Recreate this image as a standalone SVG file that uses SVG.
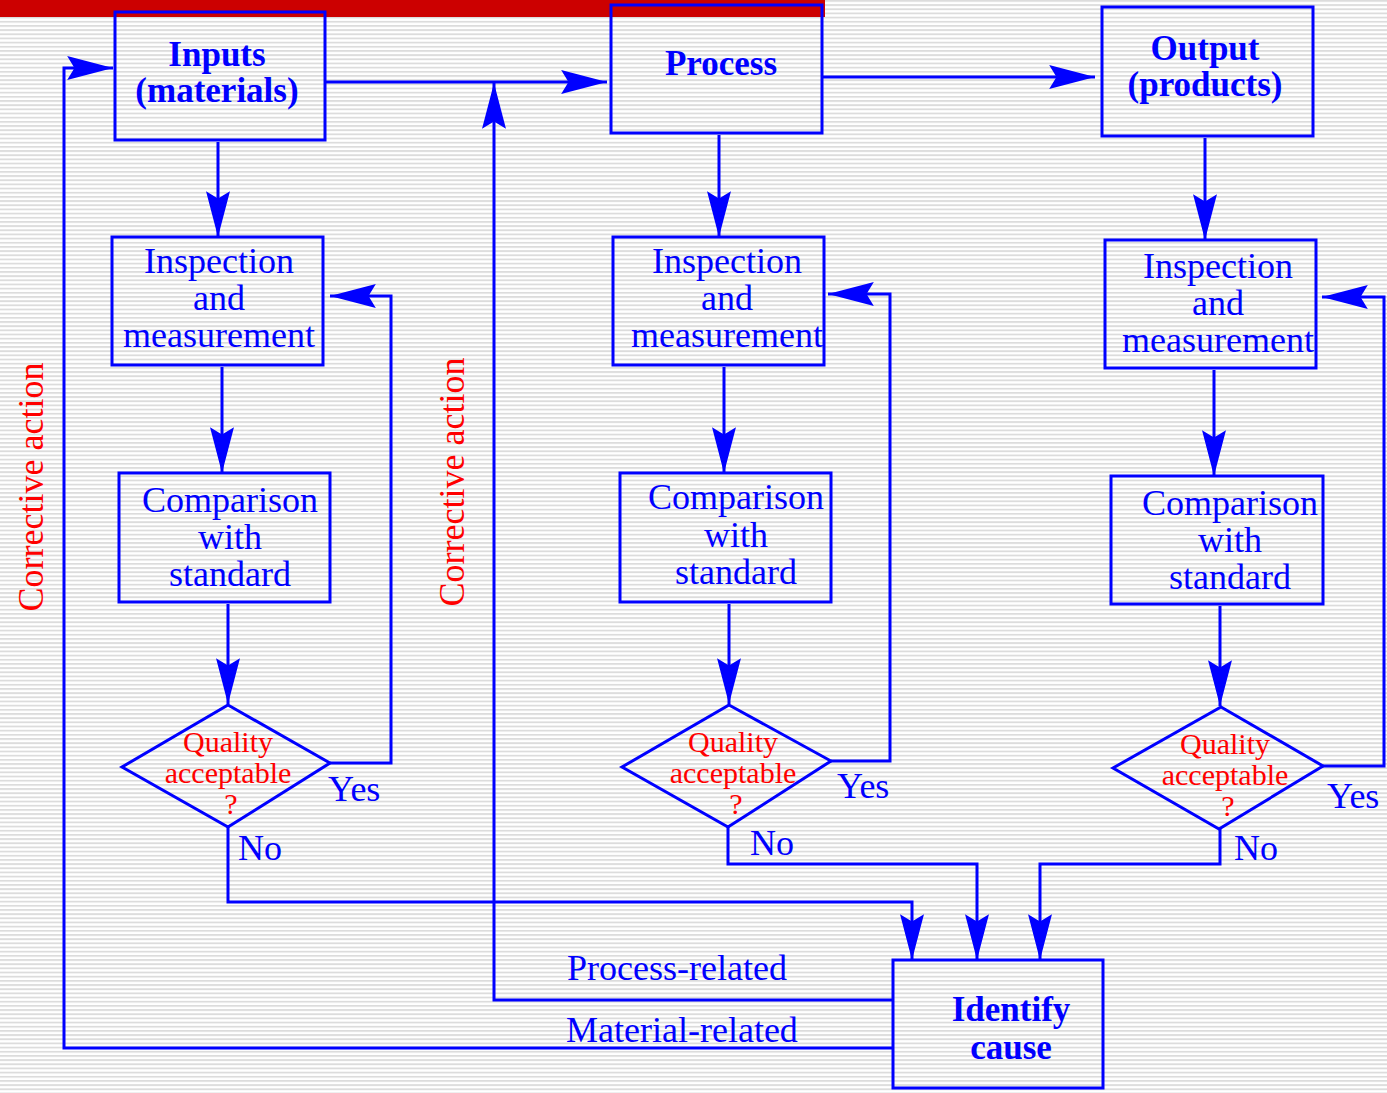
<svg xmlns="http://www.w3.org/2000/svg" width="1387" height="1093" viewBox="0 0 1387 1093">
<defs>
<pattern id="stripes" width="20" height="4.17" patternUnits="userSpaceOnUse">
<rect width="20" height="4.17" fill="#ffffff"/>
<rect y="0" width="20" height="1.8" fill="#dcdcdc"/>
</pattern>
<marker id="arr" markerUnits="userSpaceOnUse" markerWidth="50" markerHeight="30" refX="0" refY="0" viewBox="-46 -13 48 26" orient="auto" overflow="visible">
<path d="M0,0 L-44,-11.5 L-37,0 L-44,11.5 Z" fill="#0000ff"/>
</marker>
<style>
.box{fill:none;stroke:#0000ff;stroke-width:3}
.ln{fill:none;stroke:#0000ff;stroke-width:3}
.a{marker-end:url(#arr)}
.t{font-family:"Liberation Serif","Times New Roman",serif;font-size:36px;fill:#0000ff;text-anchor:middle}
.b{font-weight:bold;font-size:35px}
.q{font-family:"Liberation Serif","Times New Roman",serif;font-size:30px;fill:#ff0000;text-anchor:middle}
.r{font-family:"Liberation Serif","Times New Roman",serif;font-size:36px;fill:#ff0000;text-anchor:middle}
.l{font-family:"Liberation Serif","Times New Roman",serif;font-size:36px;fill:#0000ff}
</style>
</defs>
<rect width="1387" height="1093" fill="url(#stripes)"/>
<rect x="0" y="0" width="825" height="17" fill="#cc0000"/>

<g id="connectors">
<path class="ln a" d="M325,82 H607"/>
<path class="ln a" d="M822,77 H1095"/>
<path class="ln a" d="M218,142 V237"/>
<path class="ln a" d="M719,135 V237"/>
<path class="ln a" d="M1205,138 V240"/>
<path class="ln a" d="M222,367 V473"/>
<path class="ln a" d="M724,367 V473"/>
<path class="ln a" d="M1214,370 V476"/>
<path class="ln a" d="M228,604 V704"/>
<path class="ln a" d="M729,604 V704"/>
<path class="ln a" d="M1220,606 V706"/>
<path class="ln a" d="M330,763 H391 V296 H330"/>
<path class="ln a" d="M831,761 H890 V294 H828"/>
<path class="ln a" d="M1323,766 H1384 V297 H1322"/>
<path class="ln a" d="M228,827 V902 H912 V960"/>
<path class="ln a" d="M728,827 V864 H977 V960"/>
<path class="ln a" d="M1220,829 V864 H1040 V960"/>
<path class="ln a" d="M893,1000 H494 V83"/>
<path class="ln a" d="M893,1048 H64 V68 H113"/>
</g>

<g id="inputs">
<rect class="box" x="115" y="12" width="210" height="128"/>
<text class="t b" x="217" y="66">Inputs</text>
<text class="t b" x="217" y="102">(materials)</text>
</g>
<g id="process">
<rect class="box" x="611" y="5" width="211" height="128"/>
<text class="t b" x="721" y="75">Process</text>
</g>
<g id="output">
<rect class="box" x="1102" y="7" width="211" height="129"/>
<text class="t b" x="1205" y="60">Output</text>
<text class="t b" x="1205" y="96">(products)</text>
</g>

<g id="inspection1">
<rect class="box" x="112" y="237" width="211" height="128"/>
<text class="t" x="219" y="273">Inspection</text>
<text class="t" x="219" y="310">and</text>
<text class="t" x="219" y="347">measurement</text>
</g>
<g id="inspection2">
<rect class="box" x="613" y="237" width="211" height="128"/>
<text class="t" x="727" y="273">Inspection</text>
<text class="t" x="727" y="310">and</text>
<text class="t" x="727" y="347">measurement</text>
</g>
<g id="inspection3">
<rect class="box" x="1105" y="240" width="211" height="128"/>
<text class="t" x="1218" y="278">Inspection</text>
<text class="t" x="1218" y="315">and</text>
<text class="t" x="1218" y="352">measurement</text>
</g>

<g id="comparison1">
<rect class="box" x="119" y="473" width="211" height="129"/>
<text class="t" x="230" y="512">Comparison</text>
<text class="t" x="230" y="549">with</text>
<text class="t" x="230" y="586">standard</text>
</g>
<g id="comparison2">
<rect class="box" x="620" y="473" width="211" height="129"/>
<text class="t" x="736" y="509">Comparison</text>
<text class="t" x="736" y="547">with</text>
<text class="t" x="736" y="584">standard</text>
</g>
<g id="comparison3">
<rect class="box" x="1111" y="476" width="212" height="128"/>
<text class="t" x="1230" y="515">Comparison</text>
<text class="t" x="1230" y="552">with</text>
<text class="t" x="1230" y="589">standard</text>
</g>

<g id="decision1">
<polygon class="box" points="228,705 330,763 228,827 122,767"/>
<text class="q" x="228" y="752">Quality</text>
<text class="q" x="228" y="783">acceptable</text>
<text class="q" x="231" y="814">?</text>
<text class="l" x="328" y="801">Yes</text>
<text class="l" x="238" y="860">No</text>
</g>
<g id="decision2">
<polygon class="box" points="729,705 831,761 728,827 622,767"/>
<text class="q" x="733" y="752">Quality</text>
<text class="q" x="733" y="783">acceptable</text>
<text class="q" x="736" y="814">?</text>
<text class="l" x="837" y="798">Yes</text>
<text class="l" x="750" y="855">No</text>
</g>
<g id="decision3">
<polygon class="box" points="1221,707 1323,766 1219,829 1113,768"/>
<text class="q" x="1225" y="754">Quality</text>
<text class="q" x="1225" y="785">acceptable</text>
<text class="q" x="1228" y="816">?</text>
<text class="l" x="1327" y="808">Yes</text>
<text class="l" x="1234" y="860">No</text>
</g>

<g id="identify">
<rect class="box" x="893" y="960" width="210" height="128"/>
<text class="t b" x="1011" y="1021">Identify</text>
<text class="t b" x="1011" y="1059">cause</text>
</g>

<g id="labels">
<text class="l" x="567" y="980">Process-related</text>
<text class="l" x="566" y="1042">Material-related</text>
<text class="r" transform="translate(43,487) rotate(-90)">Corrective action</text>
<text class="r" transform="translate(464,482) rotate(-90)">Corrective action</text>
</g>
</svg>
